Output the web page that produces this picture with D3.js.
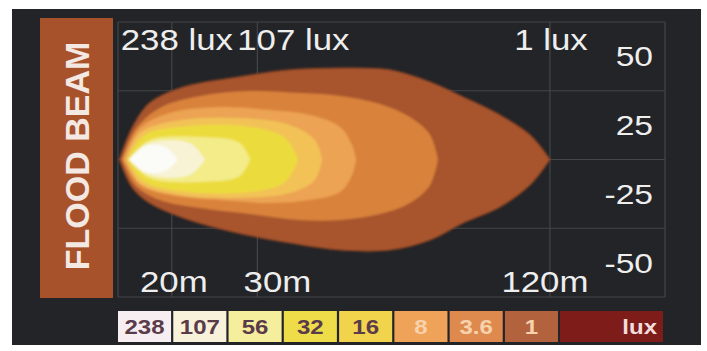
<!DOCTYPE html>
<html>
<head>
<meta charset="utf-8">
<script src="https://cdn.jsdelivr.net/npm/d3@7"></script>
<style>
  body { margin: 0; background: #fff; }
  text { font-family: "Liberation Sans", Arial, sans-serif; }
</style>
</head>
<body>
<script>
// distance ticks (m) and lateral labels
const distTicks = [20, 30, 120];
const distLabels = ["20m", "30m", "120m"];
const luxMarks = ["238 lux", "107 lux", "1 lux"];
const latLabels = ["50", "25", "-25", "-50"];

// legend
const legendValues = ["238", "107", "56", "32", "16", "8", "3.6", "1"];
const legendColors = ["#f6eef1", "#f9f2da", "#f5ee9c", "#eedd48", "#f1d34c", "#efa359", "#de8a4f", "#b2623c"];

// isolux contours: [distance m, upper, lower]
const lux1 = [[15.6,0,0],[16.6,14.2,-12.4],[18.0,24.7,-19.0],[21.1,31.6,-25.5],[26.7,35.6,-31.6],[35.0,39.1,-36.4],
  [44.4,39.9,-39.5],[56.2,39.1,-39.5],[68.0,33.8,-35.1],[79.5,27.3,-27.7],[94.7,19.4,-20.7],[109.2,10.7,-11.1],[120,0,0]];
const lux36 = [[15.8,0,0],[16.8,12.9,-11.1],[18.9,22.5,-17.7],[22.9,27.7,-21.2],[29.0,29.9,-23.8],[36.7,29.0,-26.4],
  [44.4,27.7,-26.4],[53.6,24.2,-23.8],[61.8,18.5,-19.0],[68.0,10.7,-11.1],[70.6,0,0]];
const lux8 = [[15.9,0,0],[17.2,13.7,-11.1],[19.8,20.3,-15.5],[25.1,22.9,-17.7],[31.9,21.6,-19.0],[38.5,19.4,-17.7],
  [44.4,14.2,-14.2],[47.0,6.3,-6.8],[47.9,0,0]];
const lux16 = [[16.1,0,0],[17.2,11.6,-10.3],[20.8,17.2,-15.5],[27.6,18.1,-16.8],[35.0,15.1,-14.6],[39.4,8.5,-8.9],[40.8,0,0]];
const lux32 = [[16.2,0,0],[17.6,10.7,-9.8],[21.8,14.6,-14.2],[29.0,14.2,-14.2],[34.2,9.4,-9.8],[36.4,0,0]];
const lux56 = [[16.3,0,0],[18.0,8.5,-8.1],[22.9,9.8,-9.8],[27.6,7.2,-7.2],[29.0,0,0]];
const lux107 = [[16.3,0,0],[18.0,7.2,-6.8],[21.8,7.2,-6.8],[23.4,0,0]];
const lux238 = [[16.4,0,0],[17.6,5.9,-5.5],[19.4,5.5,-5.0],[20.6,0,0]];

const contours = [lux1, lux36, lux8, lux16, lux32, lux56, lux107, lux238];
const beamColors = ["#a8552d", "#d9823b", "#eca352", "#f2c257", "#ecdb3e", "#f3ec88", "#f8f3d4", "#fbfbf8"];

const w = 707, h = 351;
const plotL = 118, plotR = 665, plotT = 22, plotB = 297;

const svg = d3.select("body").append("svg")
    .attr("width", w)
    .attr("height", h);

svg.append("defs").append("filter")
    .attr("id", "soft")
  .append("feGaussianBlur")
    .attr("stdDeviation", 0.9);

svg.append("rect")
    .attr("x", 12).attr("y", 9)
    .attr("width", 689).attr("height", 336)
    .attr("fill", "#232428");

const x = d3.scaleLog().domain([15.5, 207]).range([plotL, plotR]);
const y = d3.scaleLinear().domain([-60, 60]).range([plotB, plotT]);
const yBand = d3.scaleBand().domain(latLabels).range([plotT, plotB]);

// grid
const grid = svg.append("g").attr("stroke", "#434548").attr("stroke-width", 1.2);
grid.selectAll(".v").data(distTicks).enter().append("line")
    .attr("x1", d => x(d)).attr("x2", d => x(d))
    .attr("y1", plotT).attr("y2", plotB);
grid.selectAll(".h").data(latLabels.concat(["end"])).enter().append("line")
    .attr("x1", plotL).attr("x2", plotR)
    .attr("y1", d => d === "end" ? plotB : yBand(d))
    .attr("y2", d => d === "end" ? plotB : yBand(d));
grid.append("line").attr("x1", plotR).attr("x2", plotR).attr("y1", plotT).attr("y2", plotB);
grid.append("line").attr("x1", plotL).attr("x2", plotL).attr("y1", plotT).attr("y2", plotB);

// beam
const area = d3.area()
    .x(d => x(d[0]))
    .y0(d => y(d[2]))
    .y1(d => y(d[1]))
    .curve(d3.curveCatmullRom);

svg.append("g").attr("filter", "url(#soft)")
  .selectAll("path").data(contours).enter().append("path")
    .attr("d", area)
    .attr("fill", (d, i) => beamColors[i])
    .attr("stroke", (d, i) => i === 0 ? "#8a4222" : "none")
    .attr("stroke-width", 1.2);

function label(px, py, txt, anchor, size, color, weight) {
  return svg.append("text")
      .attr("transform", "translate(" + px + "," + py + ") scale(1.2,1)")
      .attr("text-anchor", anchor)
      .attr("font-size", size)
      .attr("font-weight", weight || "normal")
      .attr("fill", color)
      .text(txt);
}

// side tag
svg.append("rect")
    .attr("x", 40).attr("y", 18)
    .attr("width", 73).attr("height", 280)
    .attr("fill", "#a8522c");
svg.append("text")
    .attr("transform", "translate(89,156) rotate(-90)")
    .attr("text-anchor", "middle")
    .attr("font-size", 34)
    .attr("font-weight", "bold")
    .attr("fill", "#f4e8e2")
    .text("FLOOD BEAM");

// top lux marks and distance labels
const topDx = [5, 36, 1], botDx = [2, 20, -5];
distTicks.forEach((d, i) => {
  label(x(d) + topDx[i], 50, luxMarks[i], "middle", 29, "#eeeeee");
  label(x(d) + botDx[i], 292, distLabels[i], "middle", 29, "#eeeeee");
});

// lateral labels
latLabels.forEach(l => {
  label(653, yBand(l) + yBand.bandwidth() / 2 + 10, l, "end", 28, "#eeeeee");
});

// legend
const lg = d3.scaleBand().domain(legendValues).range([118, 558]).paddingInner(0.04);
svg.selectAll(".lg").data(legendValues).enter().append("rect")
    .attr("x", d => lg(d)).attr("y", 311)
    .attr("width", lg.bandwidth()).attr("height", 31)
    .attr("fill", (d, i) => legendColors[i]);
legendValues.forEach((v, i) => {
  label(lg(v) + lg.bandwidth() / 2, 334, v, "middle", 20, i < 5 ? "#5a3b4a" : "#f7d2ac", "bold");
});
svg.append("rect")
    .attr("x", 560).attr("y", 311)
    .attr("width", 103).attr("height", 31)
    .attr("fill", "#7e1c19");
label(657, 334, "lux", "end", 20, "#f3dede", "bold");
</script>
</body>
</html>
